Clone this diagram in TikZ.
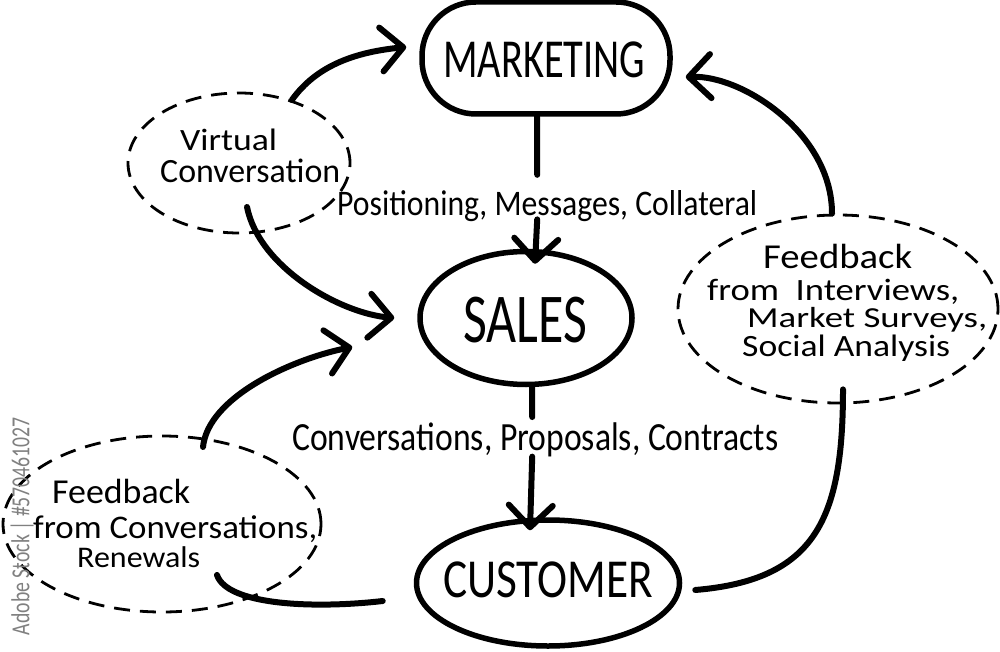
\documentclass[tikz,border=0pt]{standalone}
\usepackage{fontspec}
\setmainfont{Carlito}
\usepackage{graphicx}
\usetikzlibrary{arrows.meta,shapes.geometric,calc}
\newcommand\hw[3]{{\fontsize{#2}{#2}\selectfont\resizebox{#1pt}{\height}{#3}}}
\tikzset{
  bubble/.style={draw, ellipse, line width=5.5pt, inner sep=0pt},
  cloud/.style={draw, ellipse, line width=2.8pt, dash pattern=on 16pt off 10pt, inner sep=0pt},
  txt/.style={inner sep=0pt, anchor=base west, text=black},
  conn/.style={line width=6pt, line cap=round, line join=round},
  tipped/.style={conn, -{Straight Barb[length=22pt,width=44pt,round]}},
}
\begin{document}
\begin{tikzpicture}[x=1pt,y=-1pt]
\useasboundingbox (0,0) rectangle (1000,652);
\fill[white] (0,0) rectangle (1000,652);

% main bubbles
\node[draw, rectangle, rounded corners=54pt, line width=5.5pt, inner sep=0pt,
      minimum width=248pt, minimum height=112pt] (mkt) at (546,58) {};
\node[bubble, minimum width=212pt, minimum height=133pt] (sal) at (526,318) {};
\node[bubble, minimum width=263pt, minimum height=126pt] (cus) at (548,583) {};
\node[txt] (mktT) at (443,78) {\hw{202}{55}{MARKETING}};
\node[txt] (salT) at (463,342) {\hw{124}{70}{SALES}};
\node[txt] (cusT) at (443,597) {\hw{210}{55}{CUSTOMER}};

% dashed clouds
\node[cloud, minimum width=222pt, minimum height=140pt] (virt) at (239,163) {};
\node[cloud, minimum width=320pt, minimum height=188pt] (rfb) at (838,309) {};
\node[cloud, minimum width=318pt, minimum height=176pt] (lfb) at (162,524) {};

\node[txt] (v1) at (180,151) {\hw{97}{31}{Virtual}};
\node[txt] (v2) at (160,183) {\hw{180}{34}{Conversation}};

\node[txt] (r1) at (763,268) {\hw{149}{35}{Feedback}};
\node[txt] (r2) at (707,300) {\hw{252}{31}{from\ \ Interviews,}};
\node[txt] (r3) at (747,327) {\hw{240}{29}{Market Surveys,}};
\node[txt] (r4) at (742,356) {\hw{208}{31}{Social Analysis}};

\node[txt] (l1) at (52,503) {\hw{138}{35}{Feedback}};
\node[txt] (l2) at (33,538) {\hw{284}{33}{from Conversations,}};
\node[txt] (l3) at (77,567) {\hw{123}{30}{Renewals}};

% connector labels
\node[txt] (pos) at (337,215) {\hw{420}{36}{Positioning, Messages, Collateral}};
\node[txt] (conv) at (292,450) {\hw{486}{40}{Conversations, Proposals, Contracts}};

% watermark
\node[inner sep=0pt, rotate=90, text=black!50] (wm) at (22,526) {\hw{218}{26}{Adobe Stock | \#570461027}};

% connectors
\draw[tipped] (virt.50) .. controls +(25,-35) and +(-50,5) .. ([xshift=-13pt,yshift=11pt]mkt.west);
\draw[tipped] ($(virt.center)+(8,44)$) .. controls +(12,60) and +(-55,-5) .. ([xshift=-23pt]sal.west);

\draw[conn] ([xshift=-9pt]mkt.south) -- ([xshift=-10pt,yshift=15pt]pos.north);
\draw[tipped] ([xshift=-10pt,yshift=2pt]pos.south) -- ([xshift=9pt,yshift=-15pt]sal.north);

\draw[conn] ([xshift=6pt]sal.south) -- ([xshift=-3pt,yshift=5pt]conv.north);
\draw[tipped] ([xshift=-3pt]conv.south) -- ([xshift=-18pt,yshift=-13pt]cus.north);

\draw[tipped] ($(lfb.center)+(41,-77)$) .. controls +(5,-50) and +(-60,12) .. ([xshift=-65pt,yshift=-29pt]sal.west);

\draw[conn] ($(cus.west)+(-31,18)$) .. controls +(-70,8) and +(10,30) .. ($(lfb.center)+(55,51)$);
\draw[conn] ($(cus.east)+(13,7)$) .. controls +(120,-10) and +(0,130) .. ([xshift=5pt,yshift=15pt]rfb.south);
\draw[tipped] ([xshift=-6pt]rfb.north) .. controls +(0,-80) and +(57,-2) .. ([xshift=13pt,yshift=-19pt]mkt.east);
\end{tikzpicture}
\end{document}
